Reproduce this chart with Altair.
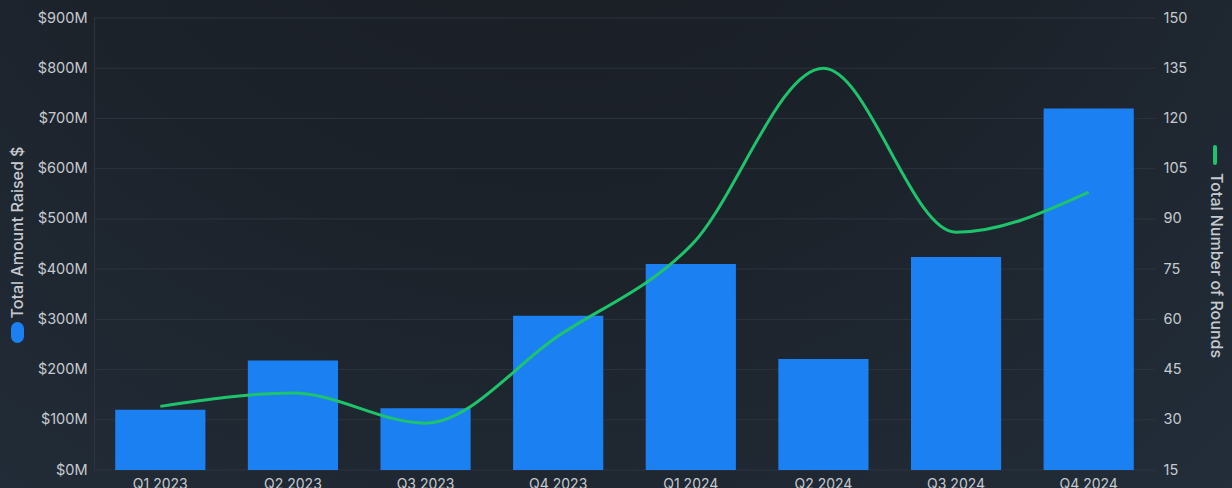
import altair as alt
import pandas as pd

quarters = ["Q1 2023", "Q2 2023", "Q3 2023", "Q4 2023", "Q1 2024", "Q2 2024", "Q3 2024", "Q4 2024"]
amount_m = [120, 218, 123, 307, 410, 221, 424, 720]
rounds = [34, 38, 29, 55, 82, 135, 86, 98]
left_ticks = [0, 100, 200, 300, 400, 500, 600, 700, 800, 900]
right_ticks = [15, 30, 45, 60, 75, 90, 105, 120, 135, 150]

df = pd.DataFrame({"quarter": quarters, "amount": amount_m, "rounds": rounds})
grid_df = pd.DataFrame({"tick": left_ticks})

FONT = "Inter"
LABEL = "#c6cad0"
GRID = "#2d343e"
BLUE = "#1b80f2"
GREEN = "#1ec46c"

W, H = 1061, 452

xenc = alt.X(
    "quarter:N",
    sort=quarters,
    scale=alt.Scale(paddingInner=0.32, paddingOuter=0.16),
    axis=alt.Axis(
        title=None, labelAngle=0, labelFontSize=14, labelColor=LABEL, labelFont=FONT,
        ticks=False, domain=False, grid=False, labelPadding=7, zindex=1,
    ),
)

bg = alt.Chart(alt.Data(values=[{"a": 1}])).mark_rect(
    color=alt.RadialGradient(
        gradient="radial",
        stops=[
            alt.GradientStop(color="#191d23", offset=0),
            alt.GradientStop(color="#1c222a", offset=0.45),
            alt.GradientStop(color="#253240", offset=1),
        ],
        x1=0.45, y1=0.05, r1=0, x2=0.45, y2=0.05, r2=1.0,
    )
).encode(x=alt.value(-94), x2=alt.value(1138), y=alt.value(-18), y2=alt.value(470))

grid = alt.Chart(grid_df).mark_rule(color=GRID, strokeWidth=1).encode(
    y=alt.Y("tick:Q", scale=alt.Scale(domain=[0, 900]), axis=None),
    x=alt.value(0), x2=alt.value(W),
)

domain_line = alt.Chart(alt.Data(values=[{"a": 1}])).mark_rule(
    color=GRID, strokeWidth=1
).encode(x=alt.value(0.5), y=alt.value(0), y2=alt.value(H))

bars = alt.Chart(df).mark_bar(color=BLUE).encode(
    x=xenc,
    y=alt.Y(
        "amount:Q",
        scale=alt.Scale(domain=[0, 900]),
        axis=alt.Axis(
            orient="left", values=left_ticks, labelExpr="'$' + datum.value + 'M'",
            labelFontSize=14.5, labelColor=LABEL, labelFont=FONT, labelPadding=7,
            ticks=False, domain=False, grid=False, zindex=1,
            title="Total Amount Raised $", titleFont=FONT, titleFontSize=16,
            titleFontWeight=500, titleColor=LABEL, titleAngle=270,
            titleX=-77, titleY=214, titleAlign="center", titleBaseline="middle",
        ),
    ),
)

line = alt.Chart(df).mark_line(color=GREEN, strokeWidth=3, interpolate="monotone").encode(
    x=alt.X("quarter:N", sort=quarters),
    y=alt.Y(
        "rounds:Q",
        scale=alt.Scale(domain=[15, 150]),
        axis=alt.Axis(
            orient="right", values=right_ticks,
            labelFontSize=14.5, labelColor=LABEL, labelFont=FONT, labelPadding=8,
            ticks=False, domain=False, grid=False, zindex=1,
            title="Total Number of Rounds", titleFont=FONT, titleFontSize=16,
            titleFontWeight=500, titleColor=LABEL, titleAngle=90,
            titleX=60, titleY=247, titleAlign="center", titleBaseline="middle",
        ),
    ),
)

left_marker = alt.Chart(alt.Data(values=[{"a": 1}])).mark_rule(
    color=BLUE, strokeWidth=13, strokeCap="round"
).encode(x=alt.value(-76.5), y=alt.value(310.5), y2=alt.value(318.5))

right_marker = alt.Chart(alt.Data(values=[{"a": 1}])).mark_rule(
    color=GREEN, strokeWidth=4, strokeCap="round"
).encode(x=alt.value(1121), y=alt.value(129), y2=alt.value(145))

chart = (
    alt.layer(bg, grid, domain_line, bars, line, left_marker, right_marker)
    .resolve_scale(y="independent")
    .properties(
        width=W, height=H,
        autosize=alt.AutoSizeParams(type="none"),
        padding={"left": 94, "top": 18, "right": 77, "bottom": 18},
        background="#1c2129",
    )
    .configure_view(stroke=None)
)

chart.save("out.html", embed_options={"renderer": "svg", "actions": False})
